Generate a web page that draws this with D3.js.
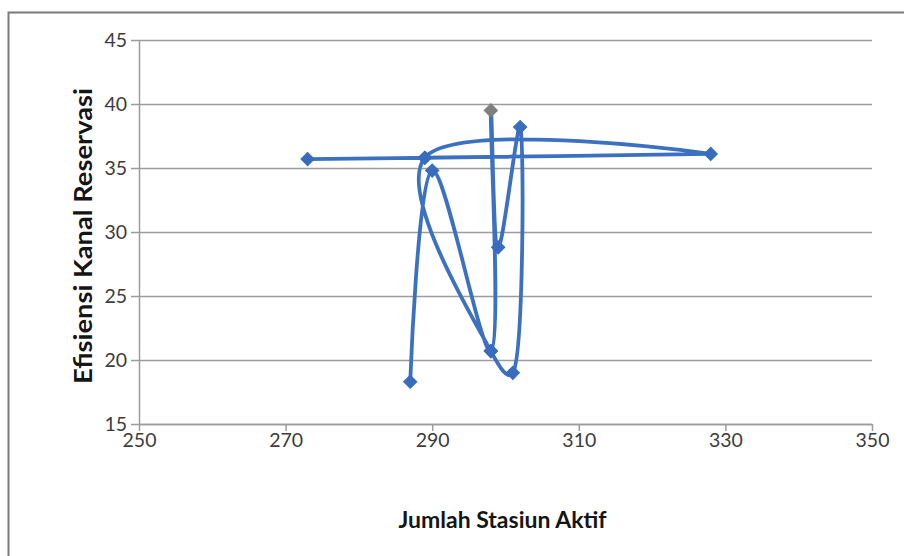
<!DOCTYPE html>
<html>
<head>
<meta charset="utf-8">
<script src="https://cdn.jsdelivr.net/npm/d3@7"></script>
<style>
  html, body { margin: 0; padding: 0; background: #ffffff; }
  svg { display: block; }
</style>
</head>
<body>
<svg id="chart" width="904" height="556"></svg>
<script>
// Number of active stations vs. reservation channel efficiency, in run order
const stations   = [273, 289, 328, 289, 298, 301, 302, 299, 298, 298, 290, 287];
const efficiency = [35.7, 35.8, 36.1, 35.8, 20.7, 19.0, 38.2, 28.8, 39.5, 20.7, 34.8, 18.3];

const xTicks = [250, 270, 290, 310, 330, 350];
const yTicks = [15, 20, 25, 30, 35, 40, 45];

const xTitle = "Jumlah Stasiun Aktif";
const yTitle = "Efisiensi Kanal Reservasi";

const points = stations.map((s, i) => ({ x: s, y: efficiency[i] }));

const svg = d3.select("#chart");
const W = 904, H = 556;
const plot = { left: 139, right: 872, top: 40, bottom: 424 };

const x = d3.scaleLinear().domain([250, 350]).range([plot.left, plot.right]);
const y = d3.scaleLinear().domain([15, 45]).range([plot.bottom, plot.top]);

const lineBlue = "#3c71c1";
const gridGrey = "#9c9c9c";
const labelFont = "Lato, 'Open Sans', sans-serif";

// chart frame (top and left edges)
svg.append("path")
  .attr("d", `M8.5,${H} V12.5 H${W}`)
  .attr("fill", "none")
  .attr("stroke", "#7a7a7a")
  .attr("stroke-width", 2);

// horizontal gridlines with outside tick marks on the value axis
const yAxis = d3.axisLeft(y)
  .tickValues(yTicks)
  .tickSize(-(plot.right - plot.left))
  .tickSizeOuter(0)
  .tickPadding(12)
  .tickFormat(d3.format("d"));

const gy = svg.append("g")
  .attr("transform", `translate(${plot.left},0)`)
  .call(yAxis);
gy.select(".domain").attr("stroke", gridGrey).attr("stroke-width", 1.5);
gy.selectAll(".tick line")
  .attr("x1", -8)
  .attr("stroke", gridGrey)
  .attr("stroke-width", 1.5);
gy.selectAll(".tick text")
  .attr("x", -12)
  .attr("fill", "#3c3c3c")
  .style("font-family", labelFont)
  .style("font-size", "19.5px");

// category axis along the bottom
const xAxis = d3.axisBottom(x)
  .tickValues(xTicks)
  .tickSize(7)
  .tickSizeOuter(0)
  .tickPadding(2)
  .tickFormat(d3.format("d"));

const gx = svg.append("g")
  .attr("transform", `translate(0,${plot.bottom})`)
  .call(xAxis);
gx.select(".domain").attr("stroke", gridGrey).attr("stroke-width", 1.5);
gx.selectAll(".tick line").attr("stroke", gridGrey).attr("stroke-width", 1.5);
gx.selectAll(".tick text")
  .attr("fill", "#3c3c3c")
  .style("font-family", labelFont)
  .style("font-size", "19.5px");

// smoothed connecting line
const line = d3.line()
  .x(d => x(d.x))
  .y(d => y(d.y))
  .curve(d3.curveCatmullRom.alpha(0.35));

svg.append("path")
  .datum(points)
  .attr("d", line)
  .attr("fill", "none")
  .attr("stroke", lineBlue)
  .attr("stroke-width", 3.8)
  .attr("stroke-linejoin", "round")
  .attr("stroke-linecap", "round");

// diamond markers; the peak value is drawn in grey
const yMax = d3.max(efficiency);
const diamond = d3.symbol().type(d3.symbolSquare).size(88);
svg.append("g")
  .selectAll("path")
  .data(points)
  .join("path")
  .attr("d", diamond)
  .attr("transform", d => `translate(${x(d.x)},${y(d.y)}) rotate(45)`)
  .attr("fill", d => d.y === yMax ? "#808080" : "#386dbd")
  .attr("stroke", d => d.y === yMax ? "#808080" : "#386dbd")
  .attr("stroke-width", 1);

// axis titles
svg.append("text")
  .attr("x", (plot.left + plot.right) / 2 - 3)
  .attr("y", 528)
  .attr("text-anchor", "middle")
  .attr("fill", "#151515")
  .attr("textLength", 208)
  .attr("lengthAdjust", "spacingAndGlyphs")
  .style("font-family", labelFont)
  .style("font-weight", "bold")
  .style("font-size", "22px")
  .text(xTitle);

svg.append("text")
  .attr("transform", `translate(92,${(plot.top + plot.bottom) / 2 + 4}) rotate(-90)`)
  .attr("text-anchor", "middle")
  .attr("fill", "#151515")
  .attr("textLength", 296)
  .attr("lengthAdjust", "spacingAndGlyphs")
  .style("font-family", labelFont)
  .style("font-weight", "bold")
  .style("font-size", "24px")
  .text(yTitle);
</script>
</body>
</html>
